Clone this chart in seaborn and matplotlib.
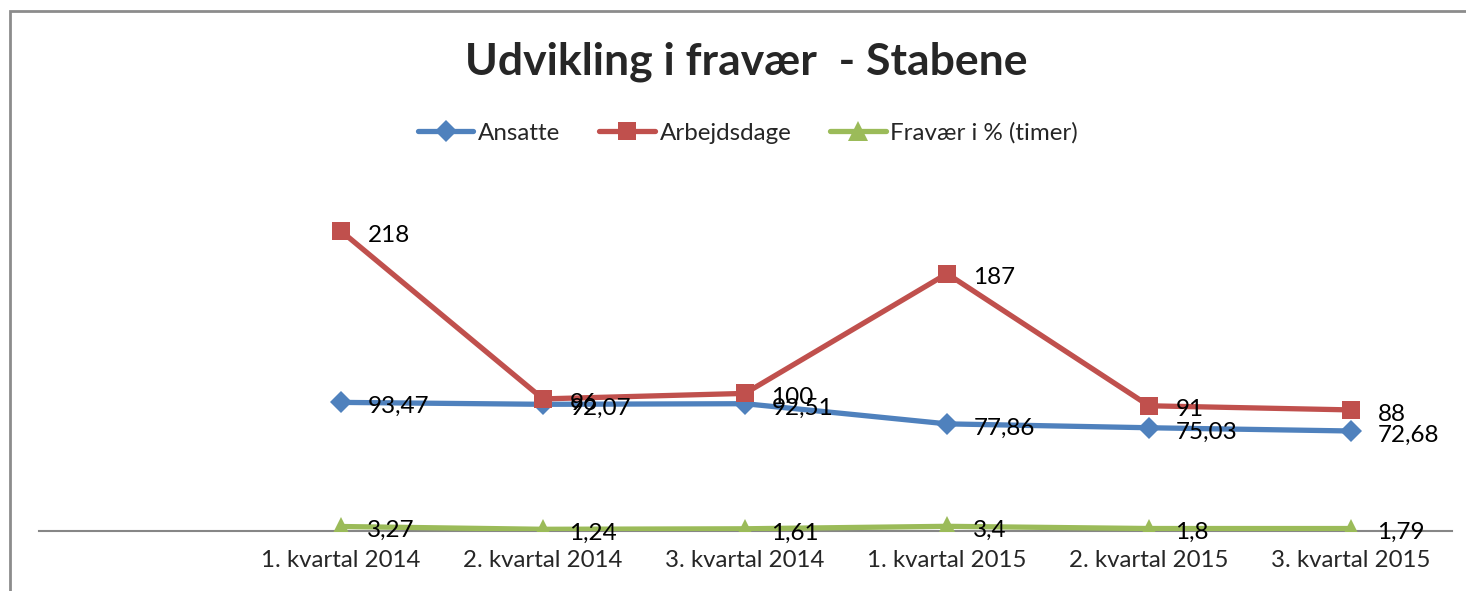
import numpy as np
import pandas as pd
import matplotlib
matplotlib.use('Agg')
import matplotlib.pyplot as plt
from matplotlib.patches import Rectangle
import seaborn as sns

# data
kvartaler = ['1. kvartal 2014', '2. kvartal 2014', '3. kvartal 2014',
             '1. kvartal 2015', '2. kvartal 2015', '3. kvartal 2015']
ansatte = [93.47, 92.07, 92.51, 77.86, 75.03, 72.68]
arbejdsdage = [218, 96, 100, 187, 91, 88]
fravaer = [3.27, 1.24, 1.61, 3.4, 1.8, 1.79]

serier = ['Ansatte', 'Arbejdsdage', 'Fravær i % (timer)']
farver = ['#4F81BD', '#C0504D', '#9BBB59']
markers = ['D', 's', '^']
msizes = [11.5, 13.5, 15]

df = pd.DataFrame({
    'kvartal': kvartaler * 3,
    'pos': list(range(len(kvartaler))) * 3,
    'serie': np.repeat(serier, len(kvartaler)),
    'vaerdi': ansatte + arbejdsdage + fravaer,
})

sns.set_style('white')
plt.rcParams['font.family'] = ['Lato', 'DejaVu Sans']

W, H = 1466, 591
fig = plt.figure(figsize=(W / 100, H / 100), dpi=100)
ax = fig.add_axes([39 / W, (H - 531) / H, (1452 - 39) / W, (531 - 187) / H])

for s, c, m, ms in zip(serier, farver, markers, msizes):
    d = df[df['serie'] == s]
    sns.lineplot(data=d, x='pos', y='vaerdi', ax=ax, color=c, lw=3.8,
                 marker=m, markersize=ms, markeredgewidth=0, label=s,
                 zorder=3 if s != 'Ansatte' else 2)
    for x, y in zip(d['pos'], d['vaerdi']):
        txt = f'{y:g}'.replace('.', ',')
        ax.annotate(txt, (x, y), xytext=(19, -3), textcoords='offset points',
                    ha='left', va='center', fontsize=17.5, color='black', zorder=5)

ax.set_xlim(-1.495, 5.5)
ax.set_ylim(0, 250)
ax.set_xticks(range(len(kvartaler)))
ax.set_xticklabels(kvartaler, fontsize=17.3)
ax.tick_params(axis='x', length=0, pad=14)
ax.set_yticks([])
ax.set_xlabel('')
ax.set_ylabel('')
for sp in ['top', 'right', 'left']:
    ax.spines[sp].set_visible(False)
ax.spines['bottom'].set_color('#868686')
ax.spines['bottom'].set_linewidth(1.5)
ax.spines['bottom'].set_zorder(1)

ax.get_legend().remove()
handles, labels = ax.get_legend_handles_labels()
fig.legend(handles, labels, loc='center', bbox_to_anchor=(748 / W, 1 - 133 / H),
           ncol=3, frameon=False, fontsize=17.4, handlelength=2.3,
           handletextpad=0.2, columnspacing=1.6)

fig.text(746 / W, 1 - 62 / H, 'Udvikling i fravær  - Stabene', ha='center',
         va='center', fontsize=32, fontweight='bold')

fig.patches.append(Rectangle((9.5 / W, -0.2), 1.2, 1 - 11 / H + 0.2,
                             transform=fig.transFigure, fill=False,
                             edgecolor='#8C8C8C', lw=2, zorder=10))

fig.savefig('out.png', dpi=100)
